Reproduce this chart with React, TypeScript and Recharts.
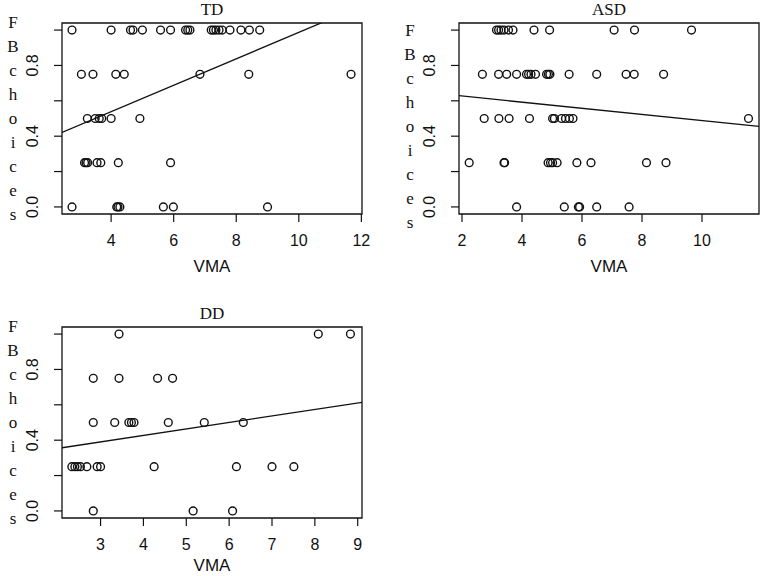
import React from 'react';
import { ScatterChart, Scatter, XAxis, YAxis, ReferenceArea, ReferenceLine } from 'recharts';

// FB choice levels (rows of points), top to bottom
const fbLevels = [1, 0.75, 0.5, 0.25, 0];
const fbTicks = [0, 0.2, 0.4, 0.6, 0.8, 1];
const fbLabelled = [0, 0.4, 0.8];

// VMA values per FB level, same order as fbLevels
const tdVma = [
  [2.75, 4.0, 4.62, 4.7, 5.0, 5.58, 5.9, 6.38, 6.45, 6.52, 7.2, 7.27, 7.35, 7.45, 7.55, 7.8, 8.15, 8.42, 8.75],
  [3.05, 3.42, 4.15, 4.42, 6.84, 8.4, 11.67],
  [3.24, 3.49, 3.62, 3.7, 4.0, 4.92],
  [3.15, 3.2, 3.25, 3.55, 3.67, 4.23, 5.9],
  [2.75, 4.18, 4.22, 4.28, 5.67, 5.99, 9.0],
];
const asdVma = [
  [3.15, 3.22, 3.3, 3.4, 3.55, 3.7, 4.4, 4.92, 7.07, 7.75, 9.65],
  [2.68, 3.22, 3.49, 3.82, 4.15, 4.22, 4.3, 4.45, 4.82, 4.88, 4.93, 5.57, 6.49, 7.47, 7.74, 8.72],
  [2.74, 3.23, 3.57, 4.25, 5.02, 5.08, 5.32, 5.45, 5.58, 5.7, 11.55],
  [2.24, 3.4, 3.42, 4.87, 4.95, 5.02, 5.17, 5.83, 6.3, 8.15, 8.8],
  [3.82, 5.41, 5.88, 5.92, 6.49, 7.57],
];
const ddVma = [
  [3.43, 8.08, 8.83],
  [2.83, 3.43, 4.33, 4.68],
  [2.83, 3.33, 3.66, 3.72, 3.78, 4.58, 5.42, 6.33],
  [2.33, 2.4, 2.46, 2.53, 2.68, 2.92, 3.0, 4.25, 6.17, 7.0, 7.51],
  [2.83, 5.16, 6.08],
];

// fitted lines: [intercept, slope]
const tdFit = [0.24, 0.0747];
const asdFit = [0.662, -0.0174];
const ddFit = [0.28, 0.0367];

const tdTicks = [4, 6, 8, 10, 12];
const asdTicks = [2, 4, 6, 8, 10];
const ddTicks = [3, 4, 5, 6, 7, 8, 9];

const yLabel = 'FBchoices'.split('');
const SANS = '"Liberation Sans", Arial, Helvetica, sans-serif';
const SERIF = '"Liberation Serif", "Times New Roman", serif';

const Circle = (props: any) => (
  <circle cx={props.cx} cy={props.cy} r={3.9} fill="none" stroke="#111" strokeWidth={1.4} />
);

const XTick = (props: any) => (
  <text x={props.x} y={props.y + 16} textAnchor="middle" dominantBaseline="central"
    fontFamily={SANS} fontSize={16} fill="#111">
    {props.payload.value}
  </text>
);

const YTick = (props: any) => {
  const v = props.payload.value;
  if (!fbLabelled.includes(v)) return <g />;
  const cx = props.x - 19;
  return (
    <text x={cx} y={props.y} transform={`rotate(-90 ${cx} ${props.y})`} textAnchor="middle"
      dominantBaseline="central" fontFamily={SANS} fontSize={16} fill="#111">
      {v.toFixed(1)}
    </text>
  );
};

interface PanelProps {
  title: string;
  vma: number[][];
  fit: number[];
  xDomain: number[];
  xTicks: number[];
  left: number;
  top: number;
  letterTop: number;
  vmaY: number;
}

const Panel = ({ title, vma, fit, xDomain, xTicks, left, top, letterTop, vmaY }: PanelProps) => {
  const points = fbLevels.flatMap((fb, i) => vma[i].map((v) => ({ vma: v, fb })));
  const [a, b] = fit;
  const seg = [
    { x: xDomain[0], y: a + b * xDomain[0] },
    { x: xDomain[1], y: a + b * xDomain[1] },
  ];
  return (
    <div style={{ position: 'absolute', left, top, width: 380, height: 290 }}>
      <ScatterChart width={380} height={290} margin={{ top: 23, right: 18, bottom: 16, left: 22 }}>
        <XAxis type="number" dataKey="vma" domain={xDomain} ticks={xTicks} allowDataOverflow
          axisLine={false} tickLine={{ stroke: '#111', strokeWidth: 1.2 }} tickSize={8} tickMargin={2}
          height={60} tick={XTick} interval={0} />
        <YAxis type="number" dataKey="fb" domain={[-0.04, 1.04]} ticks={fbTicks} allowDataOverflow
          axisLine={false} tickLine={{ stroke: '#111', strokeWidth: 1.2 }} tickSize={8} tickMargin={2}
          width={40} tick={YTick} interval={0} />
        <ReferenceArea x1={xDomain[0]} x2={xDomain[1]} y1={-0.04} y2={1.04} ifOverflow="visible"
          fill="none" stroke="#111" strokeWidth={1.3} />
        <ReferenceLine segment={seg} stroke="#111" strokeWidth={1.3} ifOverflow="hidden" />
        <Scatter data={points} shape={Circle} isAnimationActive={false} />
      </ScatterChart>
      <div style={{ position: 'absolute', left: 112, top: -1, width: 200, textAlign: 'center',
        fontFamily: SERIF, fontSize: 17, lineHeight: '22px', color: '#111' }}>{title}</div>
      {yLabel.map((ch, i) => (
        <div key={i} style={{ position: 'absolute', left: 3, top: letterTop + i * 24 - 11, width: 20,
          textAlign: 'center', fontFamily: SERIF, fontSize: 17, lineHeight: '22px', color: '#111' }}>{ch}</div>
      ))}
      <div style={{ position: 'absolute', left: 112, top: vmaY - 8, width: 200, textAlign: 'center',
        fontFamily: SANS, fontSize: 17, lineHeight: '16px', color: '#111' }}>VMA</div>
    </div>
  );
};

export default function App() {
  return (
    <div style={{ position: 'absolute', left: 0, top: 0, width: 761, height: 576, overflow: 'hidden',
      background: '#fff' }}>
      <Panel title="TD" vma={tdVma} fit={tdFit} xDomain={[2.43, 12.02]} xTicks={tdTicks}
        left={0} top={0} letterTop={23} vmaY={267} />
      <Panel title="ASD" vma={asdVma} fit={asdFit} xDomain={[1.9, 11.9]} xTicks={asdTicks}
        left={397} top={0} letterTop={31} vmaY={267} />
      <Panel title="DD" vma={ddVma} fit={ddFit} xDomain={[2.1, 9.1]} xTicks={ddTicks}
        left={0} top={304} letterTop={23} vmaY={262} />
    </div>
  );
}
